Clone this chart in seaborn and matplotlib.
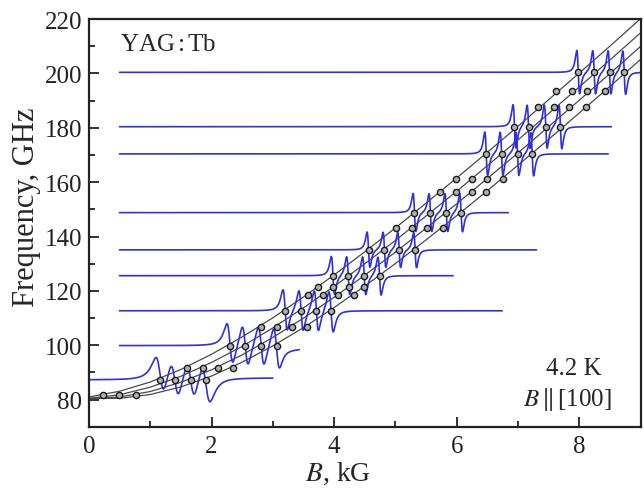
import numpy as np
import pandas as pd
import matplotlib
matplotlib.use('Agg')
import matplotlib.pyplot as plt
import seaborn as sns

### resonance points (circles): frequency rows and B positions
circle_freq = [81.8, 87.3, 91.8, 99.9, 106.8, 112.7, 118.6, 121.5, 125.6, 135.1,
               143.2, 148.8, 156.5, 161.2, 170.4, 180.4, 187.7, 193.6, 200.4]
circle_B = [
    [0.23, 0.49, 0.77],
    [1.16, 1.40, 1.66, 1.91],
    [1.60, 1.86, 2.11, 2.35],
    [2.30, 2.55, 2.81, 3.06],
    [2.81, 3.07, 3.31, 3.56],
    [3.20, 3.46, 3.71, 3.95],
    [3.58, 3.82, 4.07, 4.32],
    [3.74, 3.98, 4.25, 4.49],
    [3.98, 4.23, 4.49, 4.74],
    [4.56, 4.82, 5.06, 5.32],
    [5.01, 5.27, 5.52, 5.78],
    [5.31, 5.57, 5.83, 6.07],
    [5.73, 5.98, 6.24, 6.48],
    [5.99, 6.24, 6.50, 6.76],
    [6.48, 6.73, 6.99, 7.23],
    [6.94, 7.17, 7.45, 7.69],
    [7.33, 7.59, 7.83, 8.10],
    [7.62, 7.88, 8.13, 8.41],
    [7.98, 8.24, 8.49, 8.73],
]

### black curves
curve_B = [0, 0.5, 1, 1.5, 2, 2.5, 3, 3.5, 4, 4.5, 5, 5.5, 6, 6.5, 7, 7.5, 8, 8.5, 9]
curve_f1 = [81.0, 83.1, 86.5, 91.1, 96.7, 103.1, 110.1, 117.8, 125.9, 134.4,
            143.2, 152.3, 161.6, 171.0, 180.6, 190.4, 200.2, 210.1, 220.2]
curve_f2 = [80.5, 81.8, 84.6, 88.6, 93.7, 99.6, 106.4, 113.8, 121.7, 130.0,
            138.6, 147.6, 156.7, 166.1, 175.6, 185.3, 195.1, 205.0, 215.0]
curve_f3 = [80.3, 81.0, 83.0, 86.4, 91.0, 96.5, 102.9, 110.0, 117.7, 125.8,
            134.3, 143.1, 152.1, 161.4, 170.8, 180.5, 190.2, 200.0, 210.0]
curve_f4 = [80.5, 80.5, 81.9, 84.7, 88.7, 93.8, 99.8, 106.5, 113.9, 121.8,
            130.1, 138.8, 147.7, 156.9, 166.3, 175.8, 185.5, 195.3, 205.2]

### blue spectra
trace_freq = [87.3, 99.9, 112.7, 125.6, 135.1, 148.8, 170.4, 180.4, 200.4]
trace_start = [0.0, 0.5, 0.5, 0.5, 0.5, 0.5, 0.5, 0.5, 0.5]
trace_end = [3.0, 3.43, 6.74, 5.94, 7.30, 6.84, 8.47, 8.52, 9.0]
trace_amp = [7.0, 7.5, 7.5, 7.0, 6.5, 7.0, 8.0, 8.0, 8.0]
trace_width = [0.12, 0.085, 0.06, 0.045, 0.04, 0.04, 0.04, 0.04, 0.04]
trace_tail = [0.7, -1.2, 0, 0, 0, 0, 0, 0, 0]

plt.rcParams['mathtext.fontset'] = 'stix'
sns.set_style('ticks')
plt.rcParams['font.family'] = ['Liberation Serif', 'DejaVu Serif']

fig = plt.figure(figsize=(6.44, 4.89), dpi=100)
ax = fig.add_axes([0.138, 0.125, 0.857, 0.834])

for f in [curve_f1, curve_f2, curve_f3, curve_f4]:
    sns.lineplot(x=curve_B, y=f, color='#4a4a4a', linewidth=0.9, ax=ax)

for i, f0 in enumerate(trace_freq):
    B = np.linspace(trace_start[i], trace_end[i], 3000)
    res = circle_B[circle_freq.index(f0)]
    w = trace_width[i]
    y = np.full_like(B, f0)
    for b0 in res:
        x = (B - b0) / w
        y += -trace_amp[i] * x / (1 + x**2)**2 / 0.3248
    # baseline shift after the last line
    y += trace_tail[i] / (1 + np.exp(-(B - (res[-1] + 1.5*w)) / (w/2)))
    sns.lineplot(x=B, y=y, color='#3030e0', linewidth=1.2, estimator=None, ax=ax)

pts = pd.DataFrame([(b, f) for f, row in zip(circle_freq, circle_B) for b in row],
                   columns=['B', 'f'])
sns.scatterplot(data=pts, x='B', y='f', s=20, color='#b0b0b0', edgecolor='#1a1a1a',
                linewidth=1.0, zorder=5, ax=ax)

ax.set_xlim(0, 9.0)
ax.set_ylim(70, 220)
ax.set_xticks([0, 2, 4, 6, 8])
ax.set_xticks([1, 3, 5, 7], minor=True)
ax.set_yticks(range(80, 221, 20))
ax.set_yticks(range(90, 220, 20), minor=True)
ax.tick_params(which='both', direction='in', width=1.3, labelsize=18, colors='#222222')
ax.tick_params(which='major', length=7)
ax.tick_params(which='minor', length=4.5)
ax.tick_params(axis='x', pad=6)
ax.tick_params(axis='y', pad=5)
for s in ax.spines.values():
    s.set_linewidth(1.6)
    s.set_color('#222222')

ax.set_xlabel('$B$, kG', fontsize=20)
ax.set_ylabel('Frequency, GHz', fontsize=22)
ax.xaxis.set_label_coords(0.451, -0.08)
ax.yaxis.set_label_coords(-0.087, 0.542)

ax.text(0.5, 211, 'YAG$\\,$:$\\,$Tb', fontsize=18, ha='left', va='center')
ax.text(7.9, 91.5, '4.2 K', fontsize=18, ha='center', va='center')
ax.text(7.8, 80.5, '$B\\,\\|\\,$[100]', fontsize=18, ha='center', va='center')

plt.savefig('out.png', dpi=100)
